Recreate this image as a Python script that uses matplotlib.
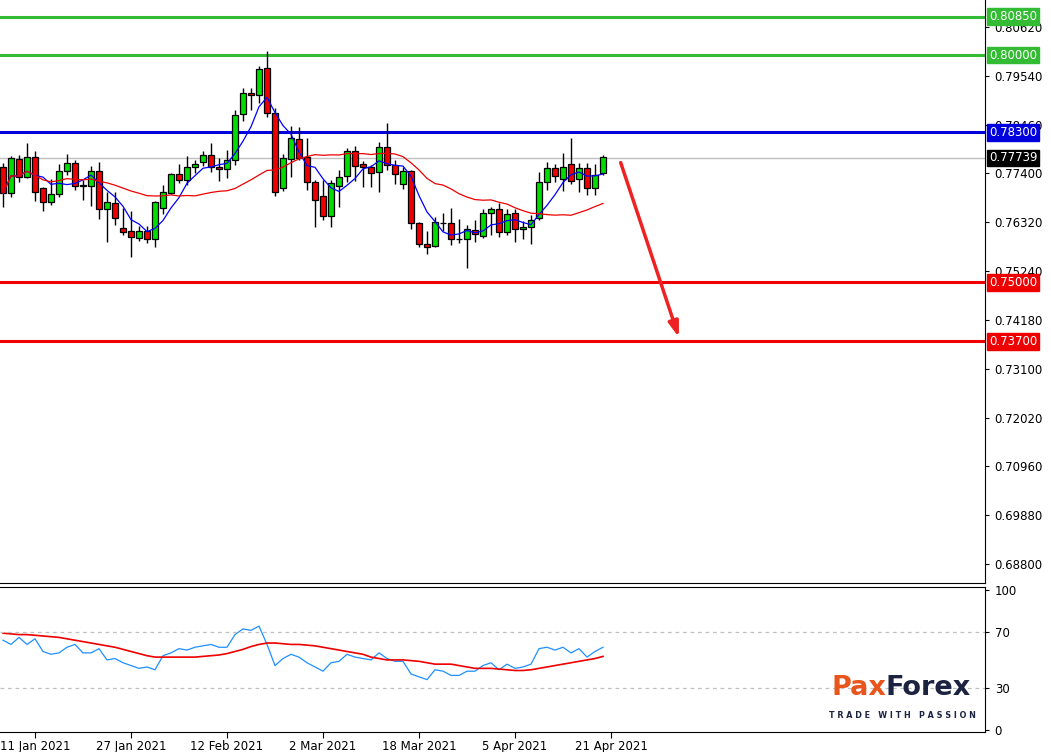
import matplotlib
matplotlib.use("Agg")
import matplotlib.pyplot as plt
import numpy as np
import pandas as pd

opens = [0.77531,0.76959,0.77707,0.77326,0.77766,0.77069,0.76776,0.76937,0.77458,0.77619,
         0.77128,0.77120,0.77443,0.76607,0.76739,0.76189,0.76123,0.75969,0.76123,0.75947,
         0.76629,0.76959,0.77377,0.77252,0.77531,0.77656,0.77795,0.77539,0.77487,0.77685,
         0.78705,0.79160,0.79116,0.79710,0.78720,0.77069,0.77707,0.78155,0.77766,0.77216,
         0.76900,0.76467,0.77120,0.77340,0.77891,0.77604,0.77531,0.77436,0.77971,0.77582,
         0.77164,0.77450,0.76298,0.75836,0.75807,0.76298,0.76298,0.75946,0.75946,0.76144,
         0.76020,0.76518,0.76607,0.76100,0.76518,0.76166,0.76210,0.76408,0.77216,0.77509,
         0.77267,0.77604,0.77267,0.77509,0.77069,0.77399]
highs = [0.77619,0.77781,0.77803,0.78060,0.77891,0.77106,0.77267,0.77605,0.77825,0.77693,
         0.77252,0.77561,0.77649,0.76988,0.76988,0.76629,0.76570,0.76240,0.76240,0.76790,
         0.77142,0.77399,0.77605,0.77781,0.77693,0.77891,0.78060,0.77729,0.77913,0.78793,
         0.79270,0.79270,0.79762,0.80092,0.78830,0.77825,0.78441,0.78412,0.78169,0.77252,
         0.77252,0.77252,0.77472,0.77949,0.78001,0.77678,0.77582,0.78096,0.78514,0.77692,
         0.77546,0.77472,0.76335,0.76137,0.76445,0.76533,0.76629,0.76394,0.76262,0.76372,
         0.76607,0.76665,0.76753,0.76607,0.76607,0.76357,0.76482,0.77436,0.77641,0.77604,
         0.77839,0.78169,0.77634,0.77634,0.77604,0.77802]
lows = [0.76651,0.76871,0.77216,0.77289,0.76798,0.76577,0.76702,0.76886,0.77363,0.77032,
        0.76812,0.76687,0.76401,0.75895,0.76262,0.76042,0.75565,0.75917,0.75873,0.75770,
        0.76504,0.76944,0.77179,0.77142,0.77399,0.77561,0.77436,0.77238,0.77304,0.77583,
        0.78558,0.78793,0.78955,0.78632,0.76908,0.77018,0.77326,0.77693,0.77032,0.76210,
        0.76372,0.76210,0.76665,0.77216,0.77238,0.77091,0.77106,0.76995,0.77472,0.77164,
        0.77047,0.76166,0.75770,0.75616,0.75785,0.76137,0.75822,0.75858,0.75308,0.75895,
        0.75968,0.76042,0.76005,0.76042,0.75895,0.75946,0.75836,0.76372,0.77032,0.77216,
        0.77017,0.77164,0.76995,0.76922,0.76922,0.77362]
closes = [0.76959,0.77729,0.77326,0.77766,0.76996,0.76761,0.76937,0.77443,0.77619,0.77128,
          0.77150,0.77458,0.76607,0.76776,0.76409,0.76115,0.75991,0.76123,0.75947,0.76761,
          0.76981,0.77377,0.77252,0.77531,0.77597,0.77795,0.77531,0.77487,0.77685,0.78676,
          0.79160,0.79116,0.79688,0.78720,0.76996,0.77729,0.78170,0.77729,0.77216,0.76812,
          0.76467,0.77179,0.77326,0.77891,0.77560,0.77531,0.77414,0.77971,0.77582,0.77377,
          0.77450,0.76298,0.75836,0.75785,0.76320,0.76313,0.75946,0.75961,0.76166,0.76064,
          0.76518,0.76607,0.76100,0.76497,0.76166,0.76210,0.76372,0.77216,0.77509,0.77340,
          0.77546,0.77230,0.77509,0.77069,0.77362,0.77751]

osc_main = [64,61,66,61,65,56,54,55,59,61,55,55,58,50,51,48,46,44,45,43,
            53,55,58,57,59,60,61,59,59,68,72,71,74,61,46,51,54,52,48,45,
            42,48,49,54,52,51,50,55,51,49,49,40,38,36,43,42,39,39,42,42,
            46,48,43,47,44,45,47,58,59,57,59,55,58,52,56,59]
osc_signal = [69,68.5,68,68,67.5,67,66.5,66,65,64,63,62,61,60,59,57.5,56,54.5,53,52,
              52,52,52,52,52,52.5,53,53.5,54.5,56,57.5,59.5,61,62,62,61.5,61,61,60.5,60,
              59,58,57,56,55,54,52,51,50,50,50,49.5,49,48,47,47,47,46,45,44,
              44,44,43.5,43,42.5,42.5,43,44,45,46,47,48,49,50,51,52.5]

date_labels = ["11 Jan 2021","27 Jan 2021","12 Feb 2021","2 Mar 2021","18 Mar 2021","5 Apr 2021","21 Apr 2021"]
date_idx = [4,16,28,40,52,64,76]
price_ticks = [0.80620,0.79540,0.78460,0.77400,0.76320,0.75240,0.74180,0.73100,0.72020,0.70960,0.69880,0.68800]
levels = [(0.80850,"#33bb33"),(0.80000,"#33bb33"),(0.78300,"#0000dd"),(0.75000,"#ee0000"),(0.73700,"#ee0000")]
current_price = 0.77739

W, H = 1051, 752
fig = plt.figure(figsize=(W/100, H/100), dpi=100)
axw = 985/W
ax = fig.add_axes([0, 1-583/H, axw, 583/H])
ax2 = fig.add_axes([0, 1-732/H, axw, 145/H])

n = len(closes)
x = np.arange(n)
for i in range(n):
    o, h, l, c = opens[i], highs[i], lows[i], closes[i]
    col = "#00dd00" if c >= o else "#ee0000"
    ax.vlines(i, l, h, color="black", lw=1, zorder=2)
    ax.bar(i, max(abs(c-o), 0.00004), bottom=min(o, c), width=0.72, color=col,
           edgecolor="black", linewidth=0.9, zorder=3)

s = pd.Series(closes)
ax.plot(x, s.rolling(5, min_periods=1).mean(), color="#0000ff", lw=0.9, zorder=4)
ax.plot(x, s.rolling(21, min_periods=1).mean(), color="#ee0000", lw=0.9, zorder=4)

ax.axhline(current_price, color="#c0c0c0", lw=1, zorder=1)
for lv, col in levels:
    ax.axhline(lv, color=col, lw=2.2, zorder=1)
    ax.text(1.004, lv, f"{lv:.5f}", transform=ax.get_yaxis_transform(), va="center", ha="left",
            fontsize=8.5, color="white", bbox=dict(boxstyle="square,pad=0.15", fc=col, ec=col), zorder=10, clip_on=False)
ax.text(1.004, current_price, f"{current_price:.5f}", transform=ax.get_yaxis_transform(), va="center", ha="left",
        fontsize=8.5, color="white", bbox=dict(boxstyle="square,pad=0.15", fc="black", ec="black"), clip_on=False)

ax.annotate("", xy=(84.6, 0.73731), xytext=(77.1, 0.77693),
            arrowprops=dict(arrowstyle="-|>,head_length=0.9,head_width=0.3", color="#ee2222", lw=2.5))

xl = (-0.375, 122.75)
ax.set_xlim(*xl)
ax.set_ylim(0.68382, 0.81214)
ax.yaxis.tick_right()
ax.set_yticks(price_ticks)
ax.set_yticklabels([f"{p:.5f}" for p in price_ticks], fontsize=8.5)
ax.set_xticks([])
for sp in ["top", "left"]:
    ax.spines[sp].set_visible(False)
ax.tick_params(axis="y", length=3, pad=4)

ax2.plot(x, osc_main, color="#1e90ff", lw=0.9)
ax2.plot(x, osc_signal, color="#ee0000", lw=1.2)
for lv in (70, 30):
    ax2.axhline(lv, color="#c0c0c0", lw=0.9, ls=(0, (3, 3)))
ax2.set_xlim(*xl)
ax2.set_ylim(-1.2, 101.8)
ax2.yaxis.tick_right()
ax2.set_yticks([0, 30, 70, 100])
ax2.set_yticklabels(["0", "30", "70", "100"], fontsize=8.5)
ax2.set_xticks(date_idx)
ax2.set_xticklabels(date_labels, fontsize=8.5)
ax2.tick_params(axis="x", length=4, pad=2)
ax2.tick_params(axis="y", length=3, pad=4)
ax2.spines["left"].set_visible(False)

fig.text(832/W, 1-688/H, "Pax", fontsize=19.5, color="#e8561e", fontweight="bold", va="center", ha="left")
fig.text(885/W, 1-688/H, "Forex", fontsize=19.5, color="#1c2340", fontweight="bold", va="center", ha="left")
fig.text(902/W, 1-715/H, "T R A D E   W I T H   P A S S I O N", fontsize=5.8, color="#1c2340", fontweight="bold",
         va="center", ha="center", family="DejaVu Sans")

fig.savefig("out.png", dpi=100)
